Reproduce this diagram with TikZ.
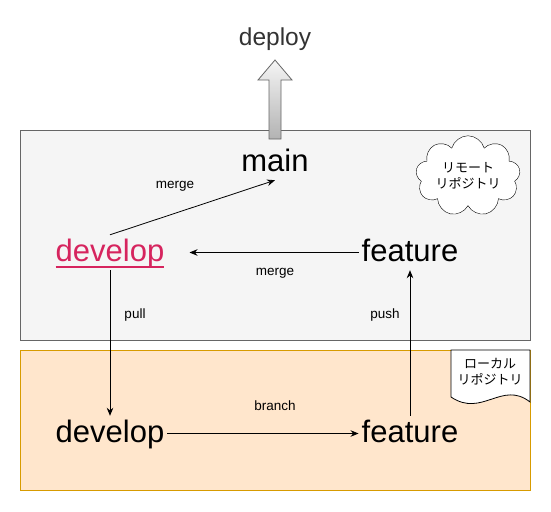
\documentclass[tikz,border=0pt]{standalone}
\usepackage{fontspec}
\setmainfont{Liberation Sans}
\newfontfamily\jpfont{Noto Sans CJK JP}
\usetikzlibrary{arrows.meta,shapes.symbols,positioning}
\definecolor{remotefill}{HTML}{F5F5F5}
\definecolor{remoteline}{HTML}{666666}
\definecolor{localfill}{HTML}{FFE6CC}
\definecolor{localline}{HTML}{D79B00}
\definecolor{devred}{HTML}{D6245E}
\definecolor{deploytext}{HTML}{333333}

\begin{document}
\begin{tikzpicture}[x=1pt,y=-1pt]
\useasboundingbox (0,0) rectangle (551,511);

\begin{scope}[branchnode/.style={anchor=base,inner sep=3pt,text height=23pt,text depth=6pt,font=\fontsize{31}{36}\selectfont},
  lbl/.style={font=\fontsize{13.5}{16}\selectfont,inner sep=1pt},
  tagtext/.style={font=\jpfont\fontsize{13}{16}\selectfont,align=center,inner sep=1pt},
  flow/.style={-{Stealth[length=8pt,width=6.5pt]},line width=0.8pt}]
% Repositories
\node[draw=localline,fill=localfill,line width=1pt,minimum width=510pt,minimum height=140pt,inner sep=0] (local) at (275,420) {};
\node[draw=remoteline,fill=remotefill,line width=1pt,minimum width=510pt,minimum height=210pt,inner sep=0] (remote) at (275,235) {};

% deploy arrow
\draw[draw=remoteline,line width=0.8pt,top color=remotefill,bottom color=black!30]
  (269,139) -- (269,80) -- (258,80) -- (275,60) -- (292,80) -- (281,80) -- (281,139) -- cycle;
\node[anchor=base,text=deploytext,font=\fontsize{24.5}{28}\selectfont] (deploy) at (275,46) {deploy};

% Nodes
\node[branchnode] (main) at (275,171) {main};
\node[branchnode,text=devred] (rdevelop) at (110,261) {develop};
\node[branchnode] (rfeature) at (410,261) {feature};
\node[branchnode] (ldevelop) at (110,442) {develop};
\node[branchnode] (lfeature) at (410,442) {feature};
\draw[devred,line width=2.2pt] ([xshift=3pt,yshift=-6pt]rdevelop.base west) -- ([xshift=-3pt,yshift=-6pt]rdevelop.base east);

% tags
\node[cloud,cloud puffs=9,aspect=1.6,draw,fill=white,minimum width=102pt,minimum height=68pt,tagtext] (remotetag) at (468,176) {リモート\\リポジトリ};
\draw[fill=white,line width=0.8pt] (451,350) -- (530,350) -- (530,402) .. controls (502,380) and (482,418) .. (451,397) -- cycle;
\node[tagtext] (localtag) at (490,372) {ローカル\\リポジトリ};

%arcs
\path (rdevelop.north) edge[flow] (main.south);
\path (rfeature) edge[flow,shorten >=22pt] (rdevelop);
\path (rdevelop) edge[flow] (ldevelop);
\path (ldevelop) edge[flow] (lfeature);
\path (lfeature) edge[flow] (rfeature);

% labels
\node[lbl] (mergemain) at (175,186) {merge};
\node[lbl] (mergedev) at (275,273) {merge};
\node[lbl] (pull) at (135,315) {pull};
\node[lbl] (push) at (385,315) {push};
\node[lbl] (branch) at (275,406) {branch};
\end{scope}

\end{tikzpicture}
\end{document}
